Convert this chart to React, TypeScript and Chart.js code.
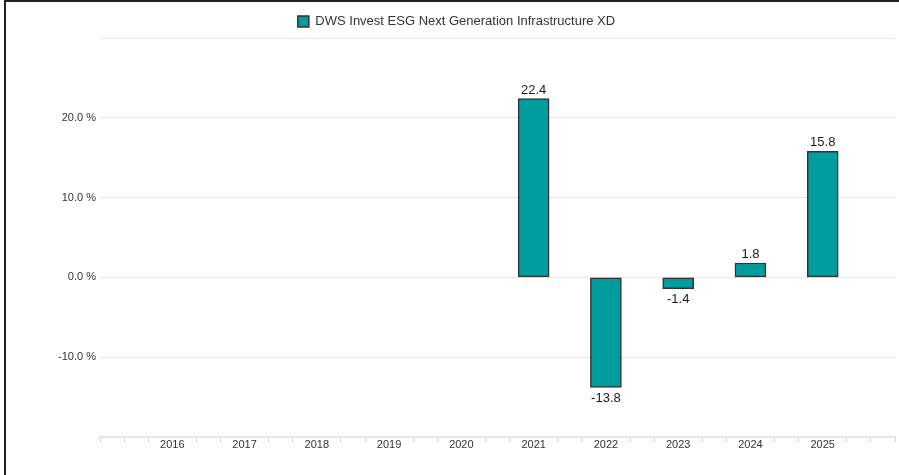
import React, { useEffect, useRef } from "react";
import { Chart, registerables } from "chart.js";

Chart.register(...registerables);

const seriesName = "DWS Invest ESG Next Generation Infrastructure XD";
const years = ["2016", "2017", "2018", "2019", "2020", "2021", "2022", "2023", "2024", "2025"];
const returns: (number | null)[] = [null, null, null, null, null, 22.4, -13.8, -1.4, 1.8, 15.8];
const yTicks = [-20, -10, 0, 10, 20, 30];
const yHiddenTickLabels = [-20, 30];

// the x axis is divided into thirds of a year; years sit on every third slot
const SLOTS_PER_YEAR = 3;
const LEAD_SLOTS = 3;
const TRAIL_SLOTS = 3;

const FONT = 'Arial, "Liberation Sans", Helvetica, sans-serif';
const TEAL = "#009c9e";
const PAD_LEFT = 18;

export default function App() {
  const ref = useRef<HTMLCanvasElement | null>(null);

  useEffect(() => {
    if (!ref.current) return;
    const total = LEAD_SLOTS + (years.length - 1) * SLOTS_PER_YEAR + 1 + TRAIL_SLOTS;
    const labels: string[] = [];
    const data: (number | null)[] = [];
    for (let i = 0; i < total; i++) {
      const k = (i - LEAD_SLOTS) / SLOTS_PER_YEAR;
      if (i >= LEAD_SLOTS && Number.isInteger(k) && k < years.length) {
        labels.push(years[k]);
        data.push(returns[k]);
      } else {
        labels.push("");
        data.push(null);
      }
    }

    const valueLabels = {
      id: "valueLabels",
      afterDatasetsDraw(chart: any) {
        const ctx = chart.ctx;
        const meta = chart.getDatasetMeta(0);
        ctx.save();
        ctx.font = `13px ${FONT}`;
        ctx.fillStyle = "#1a1a1a";
        ctx.textAlign = "center";
        ctx.textBaseline = "alphabetic";
        meta.data.forEach((el: any, i: number) => {
          const v = data[i];
          if (v === null || v === undefined) return;
          const txt = v.toFixed(1);
          if (v >= 0) ctx.fillText(txt, el.x, el.y - 5);
          else ctx.fillText(txt, el.x, el.y + 14);
        });
        ctx.restore();
      },
    };

    const chart = new Chart(ref.current, {
      type: "bar",
      data: {
        labels,
        datasets: [
          {
            label: seriesName,
            data,
            backgroundColor: TEAL,
            borderColor: "#333",
            borderWidth: 1.5,
            borderSkipped: false,
            barThickness: 31,
          },
        ],
      },
      options: {
        animation: false,
        responsive: false,
        maintainAspectRatio: false,
        layout: { padding: { top: 5, right: 4, bottom: 0, left: PAD_LEFT } },
        plugins: {
          legend: {
            position: "top",
            labels: {
              boxWidth: 11,
              boxHeight: 11,
              padding: 10,
              color: "#333",
              font: { family: FONT, size: 13 },
            },
          },
          tooltip: { enabled: false },
        },
        scales: {
          x: {
            offset: false,
            afterFit: (s: any) => {
              s.height = 38;
            },
            grid: {
              display: true,
              offset: false,
              drawOnChartArea: false,
              drawTicks: true,
              tickLength: 5,
              tickColor: (c: any) => (labels[c.index] ? "rgba(0,0,0,0)" : "#d0d0d0"),
            },
            border: { display: true, color: "#e6e6e6", width: 2 },
            ticks: {
              autoSkip: false,
              maxRotation: 0,
              minRotation: 0,
              padding: -4,
              color: "#333",
              font: { family: FONT, size: 11 },
            },
          },
          y: {
            min: yTicks[0],
            max: yTicks[yTicks.length - 1],
            afterFit: (s: any) => {
              s.width = 100 - PAD_LEFT;
            },
            afterBuildTicks: (s: any) => {
              s.ticks = yTicks.map((v) => ({ value: v }));
            },
            grid: { color: "#e6e6e6", lineWidth: 1, drawTicks: false },
            border: { display: false },
            ticks: {
              padding: 4,
              color: "#333",
              font: { family: FONT, size: 11 },
              callback: (v: any) =>
                yHiddenTickLabels.includes(Number(v)) ? "" : Number(v).toFixed(1) + " %",
            },
          },
        },
      },
      plugins: [valueLabels],
    });
    return () => chart.destroy();
  }, []);

  return (
    <div style={{ position: "fixed", left: 0, top: 0, width: 899, height: 475, background: "#fff" }}>
      <div
        style={{
          position: "absolute",
          left: 4,
          top: 0,
          width: 895,
          height: 475,
          borderTop: "2px solid #222",
          borderLeft: "2px solid #222",
          boxSizing: "border-box",
        }}
      />
      <canvas
        ref={ref}
        width={899}
        height={475}
        style={{ position: "absolute", left: 0, top: 0, width: 899, height: 475 }}
      />
    </div>
  );
}
